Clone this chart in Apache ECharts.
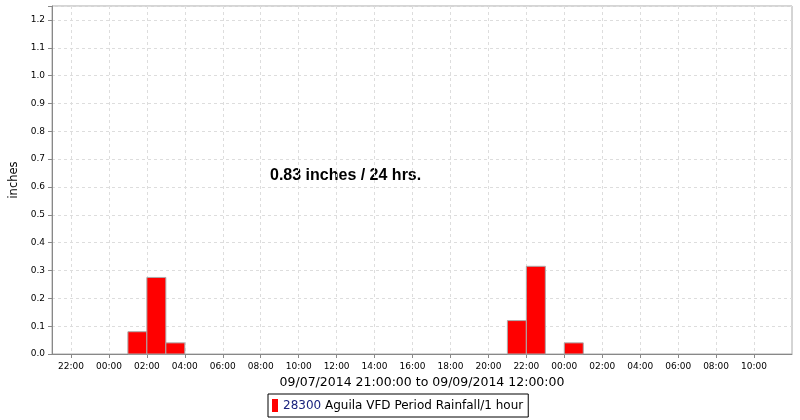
<!DOCTYPE html>
<html>
<head>
<meta charset="utf-8">
<script src="https://cdn.jsdelivr.net/npm/echarts@6/dist/echarts.min.js"></script>
<style>
html,body{margin:0;padding:0;background:#fff;}
#chart{width:800px;height:420px;}
</style>
</head>
<body>
<div id="chart"></div>
<script>
// ---- data ----
// hourly time boundaries of the x axis (09/07/2014 21:00 .. 09/09/2014 12:00)
const axisStart = '2014-09-07 21:00';
const axisHours = 39;
const barStarts = ['2014-09-08 01:00', '2014-09-08 02:00', '2014-09-08 03:00',
                   '2014-09-08 21:00', '2014-09-08 22:00', '2014-09-09 00:00'];
const rainfall = [0.08, 0.275, 0.04, 0.12, 0.315, 0.04];
const seriesName = '28300 Aguila VFD Period Rainfall/1 hour';
const xAxisTitle = '09/07/2014 21:00:00 to 09/09/2014 12:00:00';
const yAxisTitle = 'inches';
const annotation = '0.83 inches / 24 hrs.';

const HOUR = 3600 * 1000;
const t0 = echarts.time.parse(axisStart).getTime();
const hourCategories = [];
for (let i = 0; i <= axisHours; i++) {
  hourCategories.push(echarts.time.format(t0 + i * HOUR, '{yyyy}-{MM}-{dd} {HH}:{mm}', false));
}
const chartData = barStarts.map(function (s, i) { return [s, rainfall[i]]; });

function evenHour(idx, val) {
  return idx < axisHours && parseInt(val.slice(11, 13), 10) % 2 === 0;
}

const chart = echarts.init(document.getElementById('chart'), null, {renderer: 'canvas'});
const font = 'DejaVu Sans';
chart.setOption({
  animation: false,
  backgroundColor: '#fff',
  grid: {left: 52, right: 8, top: 6, bottom: 66, show: true, borderColor: '#aaa', borderWidth: 1, outerBoundsMode: 'none'},
  xAxis: {
    type: 'category',
    data: hourCategories,
    boundaryGap: false,
    name: xAxisTitle,
    nameLocation: 'middle',
    nameGap: 21,
    nameTextStyle: {fontFamily: font, fontSize: 12.5, color: '#000'},
    axisLine: {lineStyle: {color: '#888'}},
    axisTick: {show: true, length: 4, interval: evenHour, lineStyle: {color: '#888'}},
    axisLabel: {
      fontFamily: font, fontSize: 9, color: '#000', margin: 8,
      interval: evenHour,
      formatter: function (v) { return v.slice(11); }
    },
    splitLine: {show: true, interval: evenHour, lineStyle: {color: '#ddd', type: [3, 3]}}
  },
  yAxis: {
    type: 'value',
    min: 0, max: 1.25, interval: 0.1,
    name: yAxisTitle,
    nameLocation: 'middle',
    nameGap: 25,
    nameTextStyle: {fontFamily: font, fontSize: 11.5, color: '#000'},
    axisLine: {show: true, lineStyle: {color: '#888'}},
    axisTick: {show: true, length: 4, lineStyle: {color: '#888'}},
    axisLabel: {
      fontFamily: font, fontSize: 9, color: '#000', margin: 7,
      formatter: function (v) { return v > 1.21 ? '' : v.toFixed(1); }
    },
    splitLine: {show: true, lineStyle: {color: '#ddd', type: [3, 3]}}
  },
  legend: {
    left: 268, top: 394,
    padding: [5, 5, 5, 4],
    borderColor: '#000', borderWidth: 1, borderRadius: 0,
    icon: 'rect', itemWidth: 6, itemHeight: 13, itemGap: 2,
    textStyle: {fontFamily: font, fontSize: 12, color: '#000',
      rich: {id: {color: '#1a237e', fontFamily: font, fontSize: 12}}},
    formatter: function (name) {
      const sp = name.indexOf(' ');
      return '{id|' + name.slice(0, sp) + '}' + name.slice(sp);
    },
    data: [seriesName]
  },
  graphic: [{
    type: 'text', left: 270, top: 168,
    style: {text: annotation, font: 'bold 16px "Liberation Sans"', fill: '#000'}
  }],
  series: [{
    name: seriesName,
    type: 'custom',
    itemStyle: {color: '#ff0000'},
    encode: {x: 0, y: 1},
    data: chartData,
    renderItem: function (params, api) {
      const idx = api.value(0);
      const p0 = api.coord([idx, api.value(1)]);
      const p1 = api.coord([idx + 1, 0]);
      return {
        type: 'rect',
        shape: {x: p0[0], y: p0[1], width: p1[0] - p0[0], height: p1[1] - p0[1]},
        style: {fill: '#ff0000', stroke: '#aaa', lineWidth: 1}
      };
    }
  }]
});
</script>
</body>
</html>
